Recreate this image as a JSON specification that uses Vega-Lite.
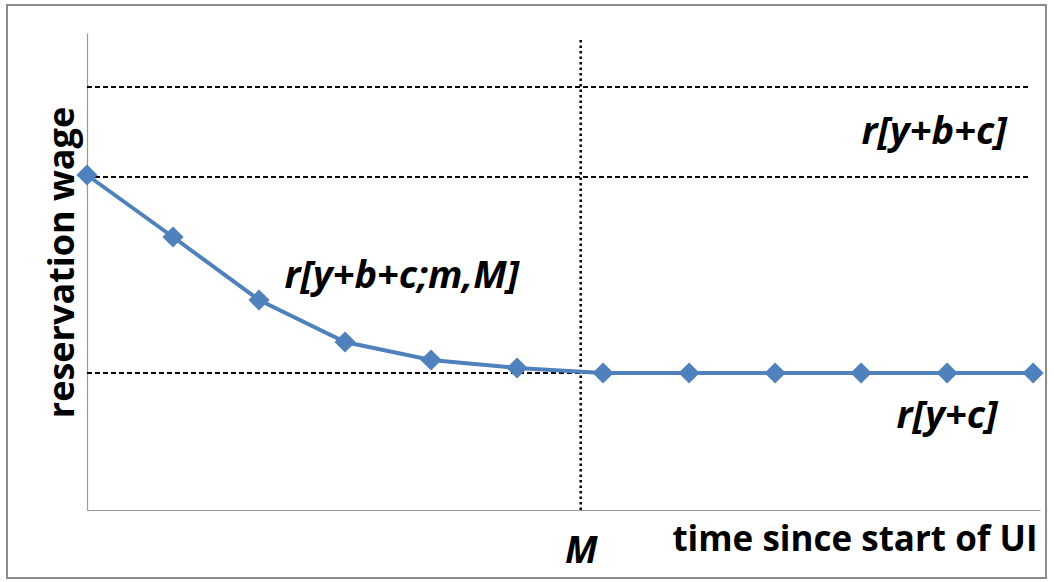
{
  "$schema": "https://vega.github.io/schema/vega-lite/v6.json",
  "width": 953,
  "height": 477,
  "autosize": {"type": "none"},
  "padding": {"left": 87, "top": 33, "right": 14, "bottom": 72},
  "background": "white",
  "config": {"view": {"stroke": null}, "font": "Open Sans"},
  "datasets": {
    "curve": [
      {"t": 0, "wage": 335}, {"t": 1, "wage": 273}, {"t": 2, "wage": 210},
      {"t": 3, "wage": 168}, {"t": 4, "wage": 150}, {"t": 5, "wage": 142},
      {"t": 6, "wage": 137}, {"t": 7, "wage": 137}, {"t": 8, "wage": 137},
      {"t": 9, "wage": 137}, {"t": 10, "wage": 137}, {"t": 11, "wage": 137}
    ],
    "frame": [{"t": -0.93, "t2": 11.15, "wage": 505, "wage2": -68}],
    "levels": [
      {"level": "r[y+b+c] upper", "wage": 423, "t": 0, "t2": 10.95},
      {"level": "r[y+b+c]", "wage": 333, "t": 0, "t2": 10.95},
      {"level": "r[y+c]", "wage": 137, "t": 0, "t2": 10.95}
    ],
    "marker": [{"t": 5.74, "wage": 0, "wage2": 470}],
    "labels": [
      {"text": "r[y+b+c]", "t": 9.85, "wage": 377},
      {"text": "r[y+b+c;m,M]", "t": 3.66, "wage": 233},
      {"text": "r[y+c]", "t": 10.0, "wage": 93}
    ]
  },
  "layer": [
    {
      "data": {"name": "frame"},
      "mark": {"type": "rect", "fill": "transparent", "stroke": "#8c8c8c", "strokeWidth": 2, "clip": false},
      "encoding": {
        "x": {"field": "t", "type": "quantitative"},
        "x2": {"field": "t2"},
        "y": {"field": "wage", "type": "quantitative"},
        "y2": {"field": "wage2"}
      }
    },
    {
      "data": {"name": "levels"},
      "mark": {"type": "rule", "color": "black", "strokeWidth": 1.8, "strokeDash": [5, 3]},
      "encoding": {
        "x": {"field": "t", "type": "quantitative"},
        "x2": {"field": "t2"},
        "y": {"field": "wage", "type": "quantitative"}
      }
    },
    {
      "data": {"name": "marker"},
      "mark": {"type": "rule", "color": "black", "strokeWidth": 2.5, "strokeDash": [2.5, 3]},
      "encoding": {
        "x": {"field": "t", "type": "quantitative"},
        "y": {"field": "wage", "type": "quantitative"},
        "y2": {"field": "wage2"}
      }
    },
    {
      "data": {"name": "curve"},
      "mark": {"type": "line", "color": "#4F81BD", "strokeWidth": 4},
      "encoding": {
        "x": {
          "field": "t", "type": "quantitative",
          "scale": {"domain": [0, 11.08], "nice": false, "zero": false},
          "axis": {
            "values": [5.74], "labelExpr": "'M'", "ticks": false, "grid": false,
            "domainColor": "#9a9a9a", "domainWidth": 1.2,
            "labelFontSize": 37, "labelFontStyle": "italic", "labelFontWeight": "bold", "labelColor": "black",
            "labelBaseline": "alphabetic", "labelPadding": 52,
            "title": "time since start of UI", "titleFontSize": 35, "titleFontWeight": "bold", "titleColor": "black",
            "titleAnchor": "end", "titleAlign": "right", "titleX": 950, "titleY": 40, "titleBaseline": "alphabetic"
          }
        },
        "y": {
          "field": "wage", "type": "quantitative",
          "scale": {"domain": [0, 477], "nice": false, "zero": false},
          "axis": {
            "ticks": false, "labels": false, "grid": false,
            "domainColor": "#9a9a9a", "domainWidth": 1.2,
            "title": "reservation wage", "titleFontSize": 36, "titleFontWeight": "bold", "titleColor": "black",
            "titleAngle": 270, "titleX": -25, "titleY": 229, "titleAlign": "center", "titleBaseline": "middle"
          }
        }
      }
    },
    {
      "data": {"name": "curve"},
      "mark": {"type": "point", "shape": "diamond", "size": 450, "filled": true, "color": "#4F81BD", "opacity": 1},
      "encoding": {
        "x": {"field": "t", "type": "quantitative"},
        "y": {"field": "wage", "type": "quantitative"}
      }
    },
    {
      "data": {"name": "labels"},
      "mark": {"type": "text", "fontSize": 38, "fontWeight": "bold", "fontStyle": "italic", "color": "black", "align": "center", "baseline": "middle"},
      "encoding": {
        "x": {"field": "t", "type": "quantitative"},
        "y": {"field": "wage", "type": "quantitative"},
        "text": {"field": "text"}
      }
    }
  ]
}
